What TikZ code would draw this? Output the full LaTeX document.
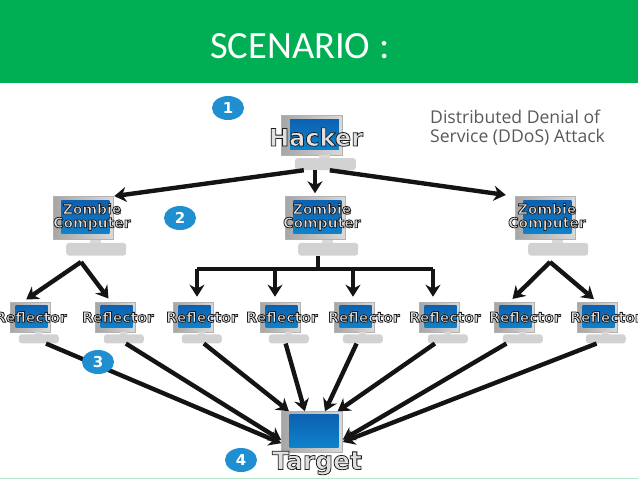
\documentclass[tikz,border=0pt]{standalone}
\usepackage{xcolor}
\usepackage{fontspec}
\usepackage{tikz}
\usetikzlibrary{shapes.geometric, arrows.meta, calc}
\newfontfamily\slidefont{Carlito}
\newfontfamily\capfont{Open Sans}
\newfontfamily\pcfont{DejaVu Sans}
\definecolor{slidegreen}{HTML}{00AE53}
\definecolor{stepblue}{HTML}{1F8FD2}
\definecolor{screenblue}{HTML}{0F6CC4}
\newcommand{\pctext}[1]{\leavevmode\special{pdf:literal q 2 Tr 0.8 w 0.12 G 0.88 g}#1\special{pdf:literal Q}}
% name, x, y, width, height
\newcommand{\computer}[5]{
  \node[monitor, minimum width=#4pt, minimum height=#5pt] (#1) at (#2,#3) {};
  \node[screen, minimum width=0.8*#4pt, minimum height=0.76*#5pt] (#1s) at ($(#1)+({0.04*#4},{-0.02*#5})$) {};
  \fill[gray!30] ($(#1.south)+({0.12*#4},0)$) rectangle ($(#1.south)+({0.3*#4},{0.14*#5})$);
  \node[standbase, minimum width=#4pt, minimum height=0.3*#5pt] (#1b) at ($(#1.south)+({0.22*#4},{0.22*#5})$) {};
}
\begin{document}
\begin{tikzpicture}[
    x=1pt, y=-1pt,
    >={Stealth[length=12pt,width=15pt]},
    monitor/.style={draw=gray!60, line width=0.5pt, left color=gray!70, right color=gray!30, inner sep=0pt},
    screen/.style={top color=screenblue!90!black, bottom color=screenblue!85!cyan, inner sep=0pt},
    standbase/.style={rounded corners=3pt, fill=gray!35, inner sep=0pt},
    conn/.style={line width=4.4pt, black!92},
    tip/.style={conn, ->},
    stepnum/.style={ellipse, fill=stepblue, text=white, minimum width=32pt, minimum height=24pt, inner sep=0pt, font=\pcfont\bfseries\fontsize{15}{15}\selectfont},
    pclabel/.style={inner sep=0pt, font=\pcfont\bfseries\fontsize{#1}{#1}\selectfont},
    pclabel/.default={14}
]
\useasboundingbox (0,0) rectangle (638,479);

% Slide title band
\fill[slidegreen] (0,0) rectangle (638,83);
\fill[slidegreen!30] (0,477.5) rectangle (638,479);
\node[text=white, inner sep=0pt, anchor=west, font=\slidefont\fontsize{38.5}{38.5}\selectfont] (title) at (210,46) {SCENARIO :};

% Computers
\computer{hacker}{312}{135}{61}{40}
\computer{z1}{83}{218}{60}{43}
\computer{z2}{315}{218}{60}{43}
\computer{z3}{545}{218}{60}{43}
\foreach \n/\x in {1/30,2/115,3/193,4/280,5/354,6/439,7/514,8/597}
  \computer{r\n}{\x}{317}{40}{30}
\node[monitor, minimum width=61pt, minimum height=41pt] (target) at (312,432) {};
\node[screen, minimum width=49pt, minimum height=33pt] (targets) at (314,431) {};

% Hacker to zombies
\draw[tip, shorten >=1pt] (hackerb.196) -- (z1.north east);
\draw[tip, shorten >=3pt] (z2.north |- hackerb.south) -- (z2.north);
\draw[tip, shorten >=9pt] (hackerb.305) -- (z3.north west);

% Zombies to reflectors
\coordinate (z1a) at (81,262);
\coordinate (z3a) at (550,262);
\coordinate (bar) at (318,269);
\coordinate (b3) at (197,269);
\coordinate (b4) at (275,269);
\coordinate (b5) at (353,269);
\coordinate (b6) at (433,269);
\draw[tip, shorten >=4pt] (z1a) -- (r1.115);
\draw[tip, shorten >=4pt] (z1a) -- (r2.105);
\draw[tip, shorten >=4pt] (z3a) -- (r7.106);
\draw[tip, shorten >=4pt] (z3a) -- (r8.north);
\draw[conn] (z2b.south -| bar) -- (bar);
\draw[conn, line cap=square] (b3) -- (b6);
\foreach \n in {3,...,6}
  \draw[tip, shorten >=5pt] (b\n) -- (b\n |- r\n.north);

% Reflectors to target
\foreach \n/\from/\to in {1/-33/200,2/-66/195,3/-66/138,4/-124/109,5/-143/58,6/-160/39,7/-164/-14,8/-153/-18}
  \draw[tip] (r\n b.\from) -- (target.\to);

% Numbered steps
\node[stepnum] (s1) at (228,108) {1};
\node[stepnum] (s2) at (180,218) {2};
\node[stepnum] (s3) at (98,362) {3};
\node[stepnum] (s4) at (241,460) {4};

% Labels
\node[pclabel=24] (hackerl) at (316,137) {\pctext{Hacker}};
\node[pclabel] (z1l) at (92,217) {\pctext{\shortstack{Zombie\\Computer}}};
\node[pclabel] (z2l) at (322,217) {\pctext{\shortstack{Zombie\\Computer}}};
\node[pclabel] (z3l) at (547,217) {\pctext{\shortstack{Zombie\\Computer}}};
\foreach \n/\x in {1/31,2/118,3/202,4/282,5/364,6/445,7/525,8/606}
  \node[pclabel] (r\n l) at (\x,317) {\pctext{Reflector}};
\node[pclabel=25] (targetl) at (317,463) {\pctext{Target}};

% Caption
\node[anchor=west, inner sep=0pt, align=left, text=black!65, font=\capfont\fontsize{17.6}{19}\selectfont] (caption) at (430,127.5) {Distributed Denial of\\Service (DDoS) Attack};
\end{tikzpicture}
\end{document}
